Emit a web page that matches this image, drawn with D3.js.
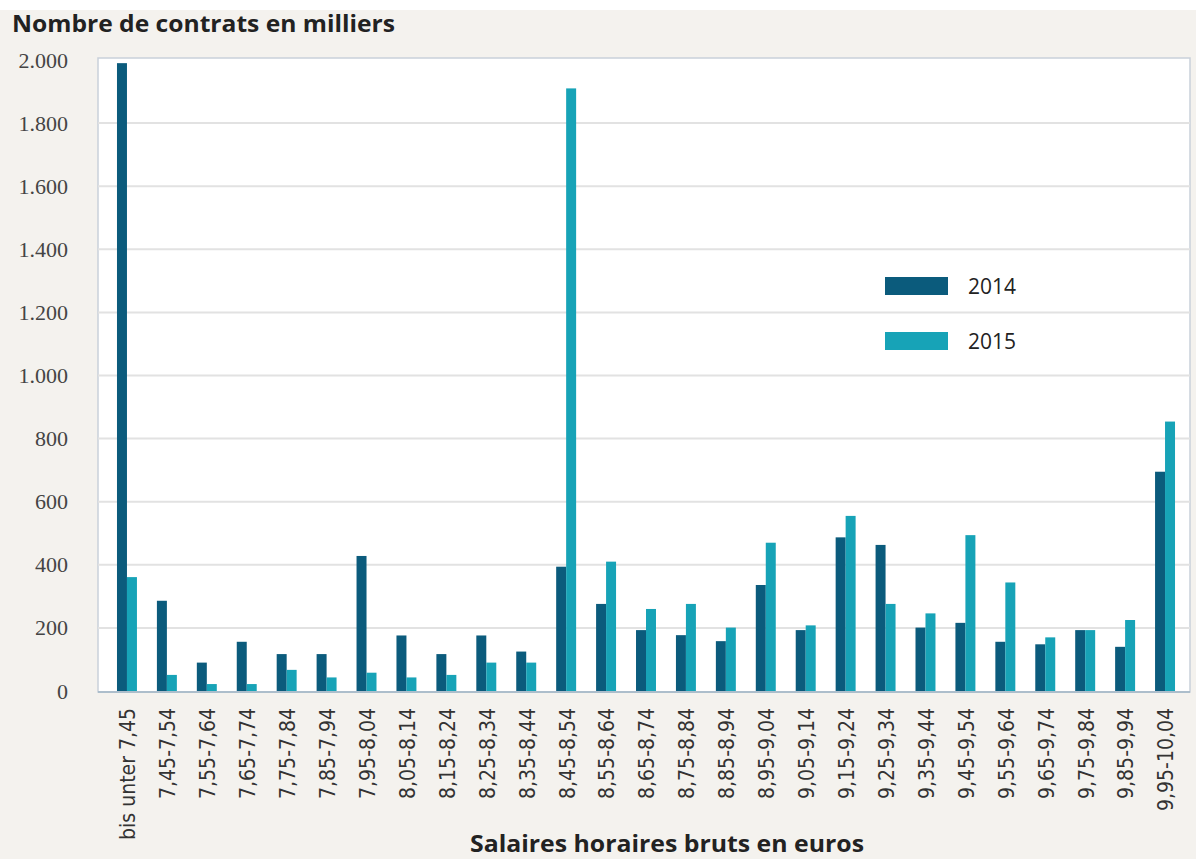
<!DOCTYPE html>
<html>
<head>
<meta charset="utf-8">
<script src="https://cdn.jsdelivr.net/npm/d3@7"></script>
<style>
  body { margin: 0; background: #f4f2ee; }
  svg { display: block; }
  .ytick text { font-family: "Liberation Serif", serif; font-size: 22px; fill: #444; }
  .xtick text { font-family: "Liberation Sans Narrow", "DejaVu Sans Condensed", sans-serif; font-size: 21px; fill: #333; }
  .title { font-family: "Open Sans", "Noto Sans", sans-serif; font-weight: bold; fill: #222; }
  .legend text { font-family: "Open Sans", "Noto Sans", sans-serif; font-size: 21px; fill: #222; }
</style>
</head>
<body>
<svg></svg>
<script>
var categories = ["bis unter 7,45", "7,45-7,54", "7,55-7,64", "7,65-7,74", "7,75-7,84", "7,85-7,94",
    "7,95-8,04", "8,05-8,14", "8,15-8,24", "8,25-8,34", "8,35-8,44", "8,45-8,54", "8,55-8,64",
    "8,65-8,74", "8,75-8,84", "8,85-8,94", "8,95-9,04", "9,05-9,14", "9,15-9,24", "9,25-9,34",
    "9,35-9,44", "9,45-9,54", "9,55-9,64", "9,65-9,74", "9,75-9,84", "9,85-9,94", "9,95-10,04"];

var values2014 = [1990, 286, 90, 156, 117, 117, 428, 176, 117, 176, 125, 394, 276,
    193, 177, 158, 336, 193, 487, 463, 201, 216, 156, 148, 193, 140, 695];
var values2015 = [361, 51, 22, 22, 67, 43, 58, 43, 51, 90, 90, 1910, 410,
    260, 276, 201, 470, 208, 555, 276, 246, 494, 344, 170, 193, 225, 854];

var seriesNames = ["2014", "2015"];
var seriesColors = ["#0b5b7c", "#17a3b7"];
var yTicks = [0, 200, 400, 600, 800, 1000, 1200, 1400, 1600, 1800, 2000];

var width = 1196,
    height = 859,
    plot = { left: 98, right: 1190, top: 58, bottom: 692 };

var svg = d3.select("svg")
    .attr("width", width)
    .attr("height", height);

svg.append("rect")
    .attr("width", width)
    .attr("height", 10)
    .attr("fill", "#ffffff");

var x = d3.scaleBand()
    .domain(categories)
    .range([107, 1185])
    .paddingInner(0.5)
    .paddingOuter(0.25);

var xs = d3.scaleBand()
    .domain(seriesNames)
    .range([0, x.bandwidth()]);

var y = d3.scaleLinear()
    .domain([0, 2000])
    .range([691, 60]);

// plot background
svg.append("rect")
    .attr("x", plot.left)
    .attr("y", plot.top)
    .attr("width", plot.right - plot.left)
    .attr("height", plot.bottom - plot.top)
    .attr("fill", "#ffffff")
    .attr("stroke", "#c9d1da")
    .attr("stroke-width", 1.5);

// gridlines
svg.append("g")
    .selectAll("line")
    .data(yTicks.filter(function(d) { return d > 0 && d < 2000; }))
    .enter().append("line")
    .attr("x1", plot.left)
    .attr("x2", plot.right)
    .attr("y1", function(d) { return y(d); })
    .attr("y2", function(d) { return y(d); })
    .attr("stroke", "#e2e2e2")
    .attr("stroke-width", 2);

// y axis labels
var yAxis = d3.axisLeft(y)
    .tickValues(yTicks)
    .tickSize(0)
    .tickPadding(0)
    .tickFormat(function(d) { return d3.format(",")(d).replace(",", "."); });

svg.append("g")
    .attr("class", "ytick")
    .attr("transform", "translate(68,0)")
    .call(yAxis)
    .call(function(g) { g.select(".domain").remove(); })
    .selectAll("text")
    .attr("dy", "0.32em");

// bars
var rows = categories.map(function(c, i) {
    return { cat: c, vals: [values2014[i], values2015[i]] };
});

var group = svg.append("g")
    .selectAll("g")
    .data(rows)
    .enter().append("g")
    .attr("transform", function(d) { return "translate(" + x(d.cat) + ",0)"; });

group.selectAll("rect")
    .data(function(d) {
        return d.vals.map(function(v, j) { return { s: seriesNames[j], v: v, j: j }; });
    })
    .enter().append("rect")
    .attr("x", function(d) { return xs(d.s); })
    .attr("width", xs.bandwidth())
    .attr("y", function(d) { return y(d.v); })
    .attr("height", function(d) { return y(0) - y(d.v); })
    .attr("fill", function(d) { return seriesColors[d.j]; });

// bottom axis line
svg.append("line")
    .attr("x1", plot.left)
    .attr("x2", plot.right)
    .attr("y1", plot.bottom)
    .attr("y2", plot.bottom)
    .attr("stroke", "#9fb4c4")
    .attr("stroke-width", 1.5);

// x labels
var xAxis = d3.axisBottom(x).tickSize(0).tickPadding(0);

svg.append("g")
    .attr("class", "xtick")
    .attr("transform", "translate(1,708)")
    .call(xAxis)
    .call(function(g) { g.select(".domain").remove(); })
    .selectAll("text")
    .attr("transform", "rotate(-90)")
    .attr("text-anchor", "end")
    .attr("x", 0)
    .attr("y", 0)
    .attr("dy", "0.35em");

// titles
svg.append("text")
    .attr("class", "title")
    .attr("x", 12)
    .attr("y", 32)
    .attr("textLength", 383)
    .attr("lengthAdjust", "spacingAndGlyphs")
    .style("font-size", "23px")
    .text("Nombre de contrats en milliers");

svg.append("text")
    .attr("class", "title")
    .attr("x", 667)
    .attr("y", 852)
    .attr("text-anchor", "middle")
    .attr("textLength", 394)
    .attr("lengthAdjust", "spacingAndGlyphs")
    .style("font-size", "23px")
    .text("Salaires horaires bruts en euros");

// legend
var legend = svg.append("g")
    .attr("class", "legend")
    .selectAll("g")
    .data(seriesNames)
    .enter().append("g")
    .attr("transform", function(d, i) { return "translate(885," + (277 + i * 55) + ")"; });

legend.append("rect")
    .attr("width", 63)
    .attr("height", 18)
    .attr("fill", function(d, i) { return seriesColors[i]; });

legend.append("text")
    .attr("x", 83)
    .attr("y", 9)
    .attr("dy", "0.36em")
    .text(function(d) { return d; });
</script>
</body>
</html>
